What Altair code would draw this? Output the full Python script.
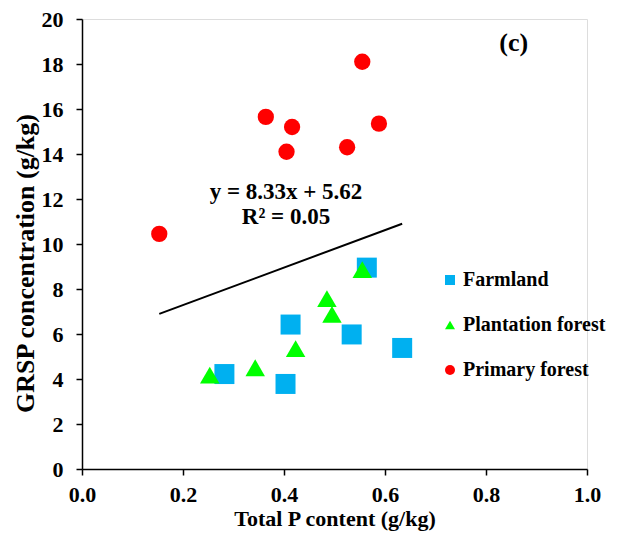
import altair as alt
import pandas as pd

# Data
farm_x = [0.564, 0.413, 0.534, 0.634, 0.282, 0.403]
farm_y = [8.95, 6.42, 5.98, 5.38, 4.22, 3.78]
plant_x = [0.555, 0.485, 0.495, 0.423, 0.343, 0.253]
plant_y = [8.86, 7.57, 6.87, 5.35, 4.50, 4.17]
prim_x = [0.555, 0.364, 0.416, 0.405, 0.525, 0.588, 0.153]
prim_y = [18.1, 15.65, 15.2, 14.1, 14.3, 15.35, 10.45]

groups = ["Farmland", "Plantation forest", "Primary forest"]
colors = ["#00B0F0", "#00FF00", "#FF0000"]
shapes = ["square", "triangle-up", "circle"]
sizes = [400, 380, 265]

slope = 8.33
intercept = 5.62
eq_text = ["y = 8.33x + 5.62", "R² = 0.05"]
eq_pos = [(0.404, 12.32), (0.404, 11.22)]
panel_label = "(c)"
panel_pos = (0.855, 18.93)

FONT = "Liberation Serif"

rows = []
for g, xs, ys in zip(groups, [farm_x, plant_x, prim_x], [farm_y, plant_y, prim_y]):
    for x, y in zip(xs, ys):
        rows.append({"group": g, "x": x, "y": y})
df = pd.DataFrame(rows)

xmin, xmax = df["x"].min(), df["x"].max()
trend = pd.DataFrame({"x": [xmin, xmax], "y": [slope * xmin + intercept, slope * xmax + intercept]})

xscale = alt.Scale(domain=[0, 1.0], nice=False)
yscale = alt.Scale(domain=[0, 20], nice=False)

xaxis = alt.Axis(title="Total P content (g/kg)", values=[0, 0.2, 0.4, 0.6, 0.8, 1.0], format=".1f",
                 grid=False, domainColor="black", domainWidth=1.5, tickColor="black", tickWidth=1.5,
                 tickSize=6, labelFont=FONT, labelFontSize=22, labelFontWeight="bold", labelColor="black",
                 labelPadding=9, labelFlush=False, titleFont=FONT, titleFontSize=22, titleFontWeight="bold",
                 titleColor="black", titlePadding=3)
yaxis = alt.Axis(title="GRSP concentration (g/kg)", values=list(range(0, 21, 2)),
                 grid=False, domainColor="black", domainWidth=1.5, tickColor="black", tickWidth=1.5,
                 tickSize=6, labelFont=FONT, labelFontSize=22, labelFontWeight="bold", labelColor="black",
                 labelPadding=13, labelFlush=False, titleFont=FONT, titleFontSize=26, titleFontWeight="bold",
                 titleColor="black", titlePadding=3, titleY=244)

color_enc = alt.Color("group:N", scale=alt.Scale(domain=groups, range=colors),
                      legend=alt.Legend(title=None, orient="none", legendX=358, legendY=251,
                                        labelFont=FONT, labelFontSize=20, labelFontWeight="bold",
                                        labelColor="black", symbolSize=100, symbolStrokeWidth=0,
                                        rowPadding=25, labelOffset=3, labelLimit=300))
shape_enc = alt.Shape("group:N", scale=alt.Scale(domain=groups, range=shapes))

layers = []
for g, s in zip(groups, sizes):
    layers.append(
        alt.Chart(df).transform_filter(alt.datum.group == g)
        .mark_point(filled=True, opacity=1, strokeWidth=0, size=s)
        .encode(x=alt.X("x:Q", scale=xscale, axis=xaxis),
                y=alt.Y("y:Q", scale=yscale, axis=yaxis),
                color=color_enc, shape=shape_enc)
    )

line = alt.Chart(trend).mark_line(color="black", strokeWidth=2).encode(
    x=alt.X("x:Q", scale=xscale), y=alt.Y("y:Q", scale=yscale)
)

eq_df = pd.DataFrame({"t": eq_text, "x": [p[0] for p in eq_pos], "y": [p[1] for p in eq_pos]})
eq = alt.Chart(eq_df).mark_text(font=FONT, fontSize=23, fontWeight="bold", color="black",
                                align="center", baseline="middle").encode(
    x=alt.X("x:Q", scale=xscale), y=alt.Y("y:Q", scale=yscale), text="t:N"
)

lab_df = pd.DataFrame({"t": [panel_label], "x": [panel_pos[0]], "y": [panel_pos[1]]})
lab = alt.Chart(lab_df).mark_text(font=FONT, fontSize=26, fontWeight="bold", color="black",
                                  align="center", baseline="middle").encode(
    x=alt.X("x:Q", scale=xscale), y=alt.Y("y:Q", scale=yscale), text="t:N"
)

chart = alt.layer(line, *layers, eq, lab).properties(
    width=505, height=450,
    autosize=alt.AutoSizeParams(type="none"),
    padding={"left": 74, "top": 11, "right": 23, "bottom": 63},
).configure_view(stroke=None).configure(background="white").configure_legend(symbolSize=100)

chart.save("out.html", embed_options={"renderer": "svg", "actions": False})
